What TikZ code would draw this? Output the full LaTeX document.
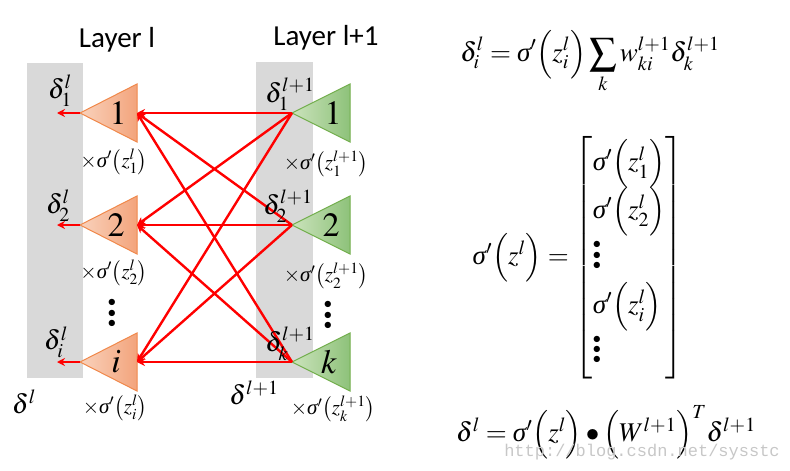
\documentclass[tikz,border=0pt]{standalone}
\usepackage{amsmath}
\usepackage{mathptmx}
\usepackage[no-math]{fontspec}
\newfontfamily\layerfont{Carlito}
\newfontfamily\wmfont{Liberation Mono}
\newfontfamily\grk{Liberation Serif}
\usetikzlibrary{arrows.meta}

\definecolor{boxgray}{HTML}{D9D9D9}
\definecolor{orgline}{HTML}{F0884A}
\definecolor{orglight}{HTML}{F9D2BC}
\definecolor{orgdark}{HTML}{F3A47C}
\definecolor{grnline}{HTML}{72AE4C}
\definecolor{grnlight}{HTML}{CBE3BC}
\definecolor{grndark}{HTML}{8EC27A}

\newcommand\bigvdots{\mathord{\vbox{\baselineskip=0.38em\lineskiplimit=-1em\kern0.2em\hbox{$\scriptscriptstyle\bullet$}\hbox{$\scriptscriptstyle\bullet$}\hbox{$\scriptscriptstyle\bullet$}}}}
\newcommand\sg{\mathord{\text{\grk\itshape σ}}}

\tikzset{
	layer/.style={font=\layerfont\fontsize{29}{34}\selectfont},
	num/.style={font=\fontsize{34}{40}\selectfont},
	dlab/.style={font=\fontsize{27}{32}\selectfont, inner sep=0pt},
	fac/.style={font=\fontsize{21}{25}\selectfont, inner sep=0pt},
	eqn/.style={font=\fontsize{27}{32}\selectfont, inner sep=0pt},
	back/.style={red, line width=2.4pt, -{Stealth[length=8pt,width=8pt]}},
	orgtri/.style={draw=orgline, line width=1pt, left color=orglight, right color=orgdark},
	grntri/.style={draw=grnline, line width=1pt, left color=grnlight, right color=grndark}
}

\begin{document}
\begin{tikzpicture}[x=1pt,y=-1pt]

	\useasboundingbox (0,0) rectangle (790,471);

	% layer backgrounds
	\fill[boxgray] (27,63) rectangle (83,378);
	\fill[boxgray] (256,62) rectangle (313,378);

	\node[layer] (lay) at (117,40) {Layer l};
	\node[layer] (layp) at (326,38) {Layer l+1};

	% neurons
	\foreach \n/\y in {1/113, 2/225, 3/362}{
		\shadedraw[orgtri] (80,\y) -- (137,\y-29) -- (137,\y+29) -- cycle;
		\shadedraw[grntri] (292,\y) -- (350,\y-29) -- (350,\y+29) -- cycle;
		\coordinate (oin\n) at (137,\y);
		\coordinate (oout\n) at (80,\y);
		\coordinate (gout\n) at (292,\y);
		\coordinate (dl\n) at (57,\y);
	}

	\node[num] (on1) at (118,113) {$1$};
	\node[num] (on2) at (116,225) {$2$};
	\node[num] (on3) at (116,362) {$i$};
	\node[num] (gn1) at (333,113) {$1$};
	\node[num] (gn2) at (331,225) {$2$};
	\node[num] (gn3) at (329,362) {$k$};

	% backward connections
	\foreach \a in {1,2,3}{
		\foreach \b in {1,2,3}{
			\draw[back] (gout\a) -- (oin\b);
		}
		\draw[back] (oout\a) -- (dl\a);
	}

	% deltas
	\node[dlab] (d1) at (60,91) {$\delta_1^l$};
	\node[dlab] (d2) at (58,206) {$\delta_2^l$};
	\node[dlab] (d3) at (56,342) {$\delta_i^l$};
	\node[dlab] (e1) at (290,94) {$\delta_1^{l+1}$};
	\node[dlab] (e2) at (288,206) {$\delta_2^{l+1}$};
	\node[dlab] (e3) at (290,344) {$\delta_k^{l+1}$};
	\node[dlab] (dl) at (24,402) {$\delta^l$};
	\node[dlab] (dlp) at (254,393) {$\delta^{l+1}$};

	% derivative factors
	\node[fac] (f1) at (114,162) {$\times\sg'\bigl(z_1^l\bigr)$};
	\node[fac] (f2) at (114,273) {$\times\sg'\bigl(z_2^l\bigr)$};
	\node[fac] (f3) at (115,408) {$\times\sg'\bigl(z_i^l\bigr)$};
	\node[fac] (g1) at (326,164) {$\times\sg'\bigl(z_1^{l+1}\bigr)$};
	\node[fac] (g2) at (326,276) {$\times\sg'\bigl(z_2^{l+1}\bigr)$};
	\node[fac] (g3) at (333,409) {$\times\sg'\bigl(z_k^{l+1}\bigr)$};
	\node[dlab] (vd1) at (112,311) {$\bigvdots$};
	\node[dlab] (vd2) at (328,313) {$\bigvdots$};

	% equations
	\node[eqn] (eq1) at (590,62) {$\displaystyle \delta_i^l=\sg'\Bigl(z_i^l\Bigr)\sum_k w_{ki}^{l+1}\delta_k^{l+1}$};
	\node[eqn] (eq2) at (578,258) {$\sg'\Bigl(z^l\Bigr)=\left[\renewcommand\arraystretch{1.35}\begin{array}{@{}l@{}}
		\sg'\Bigl(z_1^l\Bigr)\\ \sg'\Bigl(z_2^l\Bigr)\\ \bigvdots\\ \sg'\Bigl(z_i^l\Bigr)\\ \bigvdots
		\end{array}\right]$};
	\node[eqn] (eq3) at (606,432) {$\delta^l=\sg'\Bigl(z^l\Bigr)\bullet\Bigl(W^{l+1}\Bigr)^T\delta^{l+1}$};

	\node[font=\wmfont\fontsize{17}{20}\selectfont, text=black!22] (wm) at (642,452) {http://blog.csdn.net/sysstc};

\end{tikzpicture}
\end{document}
